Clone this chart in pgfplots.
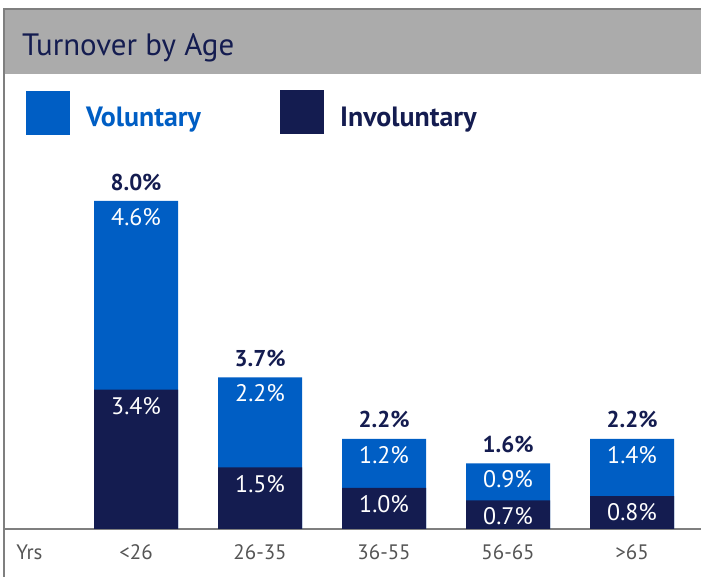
\documentclass[border=0pt]{standalone}
\usepackage{pgfplots}
\pgfplotsset{compat=1.18}
\usepackage{pgfplotstable}
\usepackage{fontspec}
\setmainfont{PT Sans}
\definecolor{volblue}{HTML}{005EC4}
\definecolor{invnavy}{HTML}{141C50}
\definecolor{titlebar}{HTML}{ABABAB}
\definecolor{framegray}{HTML}{7F7F7F}
\definecolor{ticktext}{HTML}{555555}

% turnover by age group, per cent (tot = vol + inv)
\pgfplotstableread{
x vol inv tot
0 4.6 3.4 8.0
1 2.2 1.5 3.7
2 1.2 1.0 2.2
3 0.9 0.7 1.6
4 1.4 0.8 2.2
}\turnover

\pgfplotsset{
    pct/.style={nodes near coords={\pgfmathprintnumber[fixed,fixed zerofill,precision=1,assume math mode=true]{\pgfplotspointmeta}\%}},
}

\begin{document}
\begin{tikzpicture}[x=1bp,y=1bp]
\path[use as bounding box] (0,0) rectangle (701,577);
\fill[titlebar] (5,503) rectangle (701,567);
\draw[framegray, line width=1.5bp] (4,0) -- (4,568) -- (701,568);
\node[anchor=base west, inner sep=0, text=invnavy, font=\fontsize{31}{36}\selectfont] at (22,521) {Turnover by Age};

% legend
\fill[volblue] (26,442) rectangle (70,486);
\node[anchor=base west, inner sep=0, text=volblue, font=\fontsize{28}{32}\selectfont\bfseries] at (86,450) {Voluntary};
\fill[invnavy] (280,443) rectangle (324,487);
\node[anchor=base west, inner sep=0, text=invnavy, font=\fontsize{28}{32}\selectfont\bfseries] at (340,450) {Involuntary};

\begin{axis}[
    at={(4bp,48bp)}, anchor=south west,
    scale only axis, width=697bp, height=410bp,
    xmin=-1.065, xmax=4.556, ymin=0, ymax=10,
    axis x line*=bottom, hide y axis,
    x axis line style={draw=framegray, line width=1.5bp, -},
    xtick={-0.86,0,1,2,3,4},
    xticklabels={Yrs,{<26},26-35,36-55,56-65,{>65}},
    major tick length=0pt,
    xticklabel style={font=\fontsize{21}{24}\selectfont, text=ticktext, yshift=-12bp},
    clip=false,
]
% voluntary sits on top of involuntary: blue bar to the total, navy bar over its lower part
\addplot[ybar, bar width=84bp, bar shift=0pt, fill=volblue, draw=none]
    table[x=x, y=tot]{\turnover};
\addplot[ybar, bar width=84bp, bar shift=0pt, fill=invnavy, draw=none]
    table[x=x, y=inv]{\turnover};
% segment labels
\addplot[draw=none, mark=none, point meta=explicit, pct,
    every node near coord/.append style={anchor=north, text=white, font=\fontsize{24}{28}\selectfont, yshift=-4bp}]
    table[x=x, y=tot, meta=vol]{\turnover};
\addplot[draw=none, mark=none, point meta=explicit, pct,
    every node near coord/.append style={anchor=north, text=white, font=\fontsize{24}{28}\selectfont, yshift=-4bp}]
    table[x=x, y=inv, meta=inv]{\turnover};
% totals
\addplot[draw=none, mark=none, point meta=explicit, pct,
    every node near coord/.append style={anchor=south, text=invnavy, font=\fontsize{23}{27}\selectfont\bfseries, yshift=7bp}]
    table[x=x, y=tot, meta=tot]{\turnover};
\end{axis}
\end{tikzpicture}
\end{document}
